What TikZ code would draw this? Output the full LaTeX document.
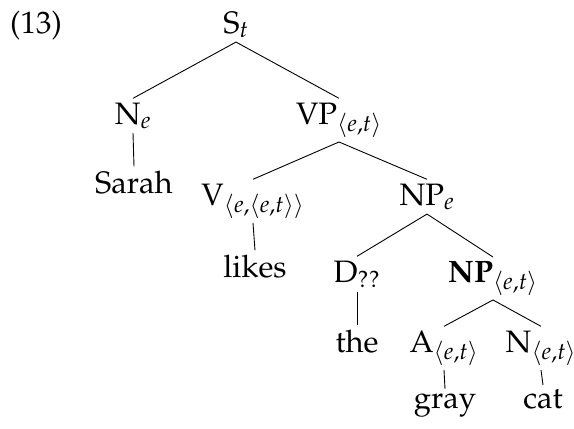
\documentclass[tikz,border=0pt]{standalone}
\usepackage[T1]{fontenc}
\usepackage{mathpazo}
\begin{document}
\begin{tikzpicture}[x=1pt,y=-1pt,
  lbl/.style={anchor=base, inner sep=4pt, font=\fontsize{31}{37}\selectfont},
  edge/.style={draw, line width=0.9pt}]
\useasboundingbox (0,0) rectangle (574,429);
\node[lbl, anchor=base west, inner sep=0pt] (ex) at (10,33) {(13)};
\node[lbl] (S) at (236,33) {S$_t$};
\node[lbl] (Ne) at (133,124) {N$_e$};
\node[lbl] (sarah) at (134,193) {Sarah};
\node[lbl] (VP) at (339,124) {VP$_{\langle e,t\rangle}$};
\node[lbl] (V) at (253,205) {V$_{\langle e,\langle e,t\rangle\rangle}$};
\node[lbl] (likes) at (255,277) {likes};
\node[lbl] (NPe) at (427,205) {NP$_e$};
\node[lbl] (D) at (357,282) {D$_{\mathrm{??}}$};
\node[lbl] (the) at (357,352) {the};
\node[lbl] (NPb) at (493,282) {\textbf{NP}$_{\langle e,t\rangle}$};
\node[lbl] (A) at (444,352) {A$_{\langle e,t\rangle}$};
\node[lbl] (gray) at (445,408) {gray};
\node[lbl] (Nc) at (541,352) {N$_{\langle e,t\rangle}$};
\node[lbl] (cat) at (543,408) {cat};
\path[edge] (S.south) -- (Ne.north);
\path[edge] (S.south) -- (VP.north);
\path[edge] (Ne.south) -- (sarah.north);
\path[edge] (VP.south) -- (V.north);
\path[edge] (VP.south) -- (NPe.north);
\path[edge] (V.south) -- (likes.north);
\path[edge] (NPe.south) -- (D.north);
\path[edge] (NPe.south) -- (NPb.north);
\path[edge] (D.south) -- (the.north);
\path[edge] (NPb.south) -- (A.north);
\path[edge] (NPb.south) -- (Nc.north);
\path[edge] (A.south) -- (gray.north);
\path[edge] (Nc.south) -- (cat.north);
\end{tikzpicture}
\end{document}
